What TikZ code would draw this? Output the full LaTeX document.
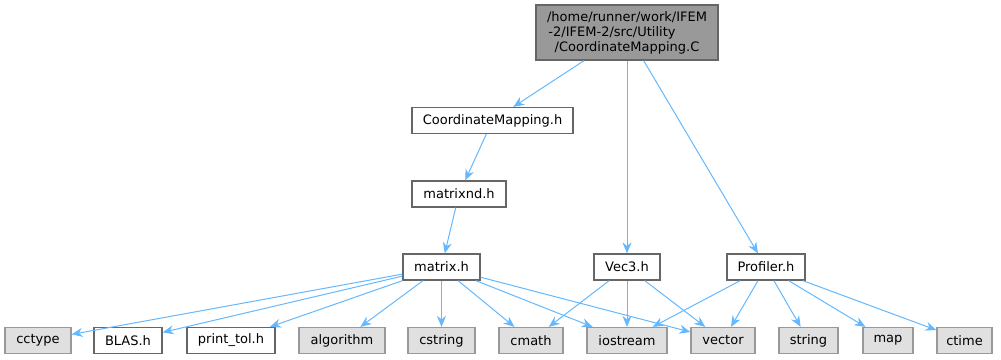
\documentclass[tikz,border=0pt]{standalone}
\usepackage{fontspec}
\setmainfont{DejaVu Sans}
\usetikzlibrary{arrows.meta, positioning}
\definecolor{depblue}{HTML}{63B8FF}
\definecolor{rootfill}{HTML}{999999}
\definecolor{boxline}{HTML}{666666}
\definecolor{sysfill}{HTML}{E0E0E0}
\definecolor{sysline}{HTML}{999999}

\begin{document}
\begin{tikzpicture}[x=1pt, y=-1pt,
    filebox/.style={draw=boxline, fill=white, font=\fontsize{13}{15}\selectfont, inner sep=0pt, minimum height=26pt, line width=1.2pt},
    sysbox/.style={filebox, draw=sysline, fill=sysfill},
    rootbox/.style={filebox, fill=rootfill, align=center, minimum width=182pt, minimum height=55pt},
    dep/.style={draw=depblue, line width=1pt, -{Stealth[length=11pt, width=9pt]}}]
    \useasboundingbox (0,0) rectangle (1001,359);

    % Root file
    \node[rootbox] (root) at (627,32.5) {/home/runner/work/IFEM\\-2/IFEM-2/src/Utility\rule{30pt}{0pt}\\/CoordinateMapping.C};

    % Project headers
    \node[filebox, minimum width=161pt] (cmaph) at (492.5,120.5) {CoordinateMapping.h};
    \node[filebox, minimum width=94pt] (matnd) at (459,194) {matrixnd.h};
    \node[filebox, minimum width=77pt] (math) at (441.5,267) {matrix.h};
    \node[filebox, minimum width=66pt] (vech) at (627,267) {Vec3.h};
    \node[filebox, minimum width=78pt] (profh) at (766,267) {Profiler.h};

    % Bottom row
    \node[sysbox, minimum width=66pt] (cctype) at (38,340.5) {cctype};
    \node[filebox, minimum width=68pt] (blas) at (128,340.5) {BLAS.h};
    \node[filebox, minimum width=88pt] (ptol) at (231,340.5) {print\_tol.h};
    \node[sysbox, minimum width=86pt] (algo) at (342,340.5) {algorithm};
    \node[sysbox, minimum width=67pt] (cstr) at (441.5,340.5) {cstring};
    \node[sysbox, minimum width=64pt] (cmath) at (531,340.5) {cmath};
    \node[sysbox, minimum width=80pt] (iostr) at (627,340.5) {iostream};
    \node[sysbox, minimum width=64pt] (vect) at (723,340.5) {vector};
    \node[sysbox, minimum width=59pt] (str) at (808.5,340.5) {string};
    \node[sysbox, minimum width=50pt] (map) at (888,340.5) {map};
    \node[sysbox, minimum width=55pt] (ctime) at (964.5,340.5) {ctime};

    % Includes
    \draw[dep] (root) -- (cmaph);
    \draw[dep] (root) -- (vech);
    \draw[dep] (root) -- (profh);
    \draw[dep] (cmaph) -- (matnd);
    \draw[dep] (matnd) -- (math);
    \foreach \dst in {cctype, blas, ptol, algo, cstr, cmath, iostr, vect}
        \draw[dep] (math) -- (\dst);
    \foreach \dst in {cmath, iostr, vect}
        \draw[dep] (vech) -- (\dst);
    \foreach \dst in {iostr, vect, str, map, ctime}
        \draw[dep] (profh) -- (\dst);
\end{tikzpicture}
\end{document}
